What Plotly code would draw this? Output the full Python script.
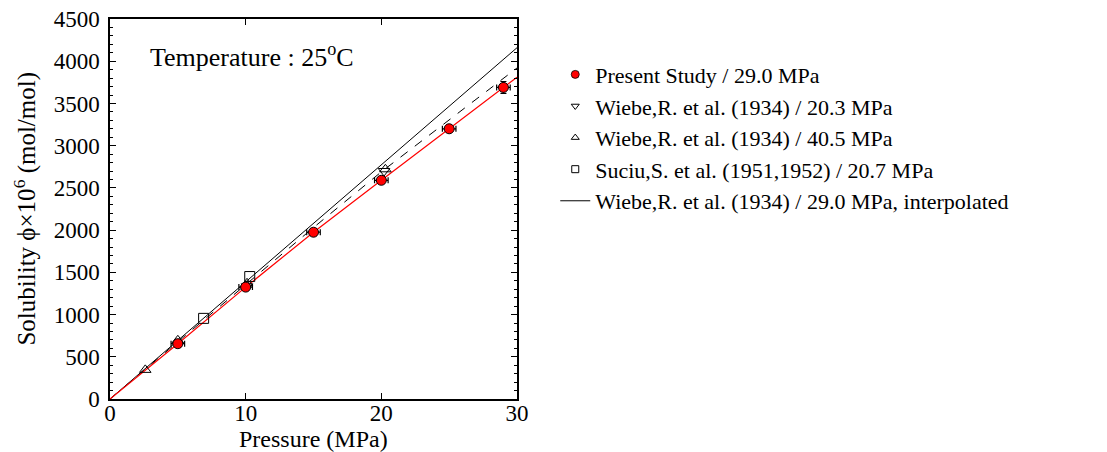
import plotly.graph_objects as go

# Present study (29.0 MPa)
ps_p = [5.0, 10.0, 15.0, 20.0, 25.0, 29.0]
ps_s = [655, 1325, 1975, 2590, 3200, 3690]
ps_ex = [0.5, 0.5, 0.5, 0.5, 0.5, 0.5]
ps_ey = [40, 40, 40, 40, 40, 70]
# fit line for present study
fit_p = [0, 5.0, 10.0, 15.0, 20.0, 25.0, 29.0, 30.0]
fit_s = [0, 655, 1325, 1975, 2590, 3200, 3690, 3810]
# Wiebe 20.3 MPa
w203_p = [10.1, 20.2]
w203_s = [1335, 2700]
# Wiebe 40.5 MPa
w405_p = [2.6, 5.0, 10.1, 20.3]
w405_s = [345, 695, 1370, 2720]
# Suciu 20.7 MPa
su_p = [6.9, 10.3]
su_s = [955, 1450]
# Wiebe 29.0 MPa interpolated
wi_p = [0, 30]
wi_s = [0, 4160]
# dashed curve
da_p = [0, 5, 10, 15, 20, 25, 30]
da_s = [0, 675, 1345, 2030, 2690, 3300, 3920]

FONT = "Liberation Serif"

fig = go.Figure()
fig.add_trace(go.Scatter(x=da_p, y=da_s, mode="lines", showlegend=False,
                         line=dict(color="black", width=1, dash="dash")))
fig.add_trace(go.Scatter(x=wi_p, y=wi_s, mode="lines", showlegend=False,
                         line=dict(color="black", width=1)))
fig.add_trace(go.Scatter(x=fit_p, y=fit_s, mode="lines", showlegend=False,
                         line=dict(color="red", width=1.2)))
fig.add_trace(go.Scatter(x=su_p, y=su_s, mode="markers", showlegend=False,
                         marker=dict(symbol="square-open", size=10, color="black", line=dict(width=1))))
fig.add_trace(go.Scatter(x=w405_p, y=w405_s, mode="markers", showlegend=False,
                         marker=dict(symbol="triangle-up-open", size=10, color="black", line=dict(width=1))))
fig.add_trace(go.Scatter(x=w203_p, y=w203_s, mode="markers", showlegend=False,
                         marker=dict(symbol="triangle-down-open", size=10, color="black", line=dict(width=1))))
fig.add_trace(go.Scatter(x=ps_p, y=ps_s, mode="markers", showlegend=False,
                         error_x=dict(type="data", array=ps_ex, color="black", thickness=1.2, width=3),
                         error_y=dict(type="data", array=ps_ey, color="black", thickness=1.2, width=3),
                         marker=dict(symbol="circle", size=10, color="red", line=dict(color="black", width=1))))

# legend-only traces (order matters)
fig.add_trace(go.Scatter(x=[None], y=[None], mode="markers", name="Present Study / 29.0 MPa",
                         marker=dict(symbol="circle", size=8, color="red", line=dict(color="black", width=0.8))))
fig.add_trace(go.Scatter(x=[None], y=[None], mode="markers", name="Wiebe,R. et al. (1934) / 20.3 MPa",
                         marker=dict(symbol="triangle-down-open", size=7, color="black", line=dict(width=1))))
fig.add_trace(go.Scatter(x=[None], y=[None], mode="markers", name="Wiebe,R. et al. (1934) / 40.5 MPa",
                         marker=dict(symbol="triangle-up-open", size=7, color="black", line=dict(width=1))))
fig.add_trace(go.Scatter(x=[None], y=[None], mode="markers", name="Suciu,S. et al. (1951,1952) / 20.7 MPa",
                         marker=dict(symbol="square-open", size=7, color="black", line=dict(width=1))))
fig.add_trace(go.Scatter(x=[None], y=[None], mode="lines", name="Wiebe,R. et al. (1934) / 29.0 MPa, interpolated",
                         line=dict(color="black", width=1)))

axis_common = dict(showgrid=False, zeroline=False, showline=True, linecolor="black", linewidth=1.5,
                   mirror="ticks", ticks="inside", ticklen=6, tickcolor="black", automargin=False,
                   ticklabeloverflow="allow",
                   tickfont=dict(family=FONT, size=23, color="black"))

fig.update_xaxes(range=[0, 30], tickvals=[0, 10, 20, 30], ticklabelstandoff=-7, **axis_common)
fig.update_yaxes(range=[0, 4500], dtick=500, ticklabelstandoff=4, **axis_common,
                 minor=dict(ticks="inside", ticklen=3, dtick=100, tickcolor="black", showgrid=False))

fig.add_annotation(x=0.5, y=-0.106, xref="paper", yref="paper", xanchor="center", yanchor="middle",
                   text="Pressure (MPa)", showarrow=False,
                   font=dict(family=FONT, size=24, color="black"))
fig.add_annotation(x=-0.21, y=0.5, xref="paper", yref="paper", xanchor="center", yanchor="middle",
                   text="Solubility ϕ×10<sup>6</sup> (mol/mol)", showarrow=False, textangle=-90,
                   font=dict(family=FONT, size=25, color="black"))
fig.add_annotation(x=0.093, y=0.905, xref="paper", yref="paper", xanchor="left", yanchor="middle",
                   text="Temperature : 25<sup>o</sup>C", showarrow=False,
                   font=dict(family=FONT, size=26, color="black"))

fig.update_layout(
    width=1107, height=452,
    margin=dict(l=102, r=598, t=11, b=61),
    paper_bgcolor="white", plot_bgcolor="white",
    legend=dict(x=1.094, y=0.909, xanchor="left", yanchor="top",
                font=dict(family=FONT, size=22, color="black"),
                bgcolor="rgba(0,0,0,0)", itemwidth=30, tracegroupgap=0),
)

fig.write_html("out.html")
